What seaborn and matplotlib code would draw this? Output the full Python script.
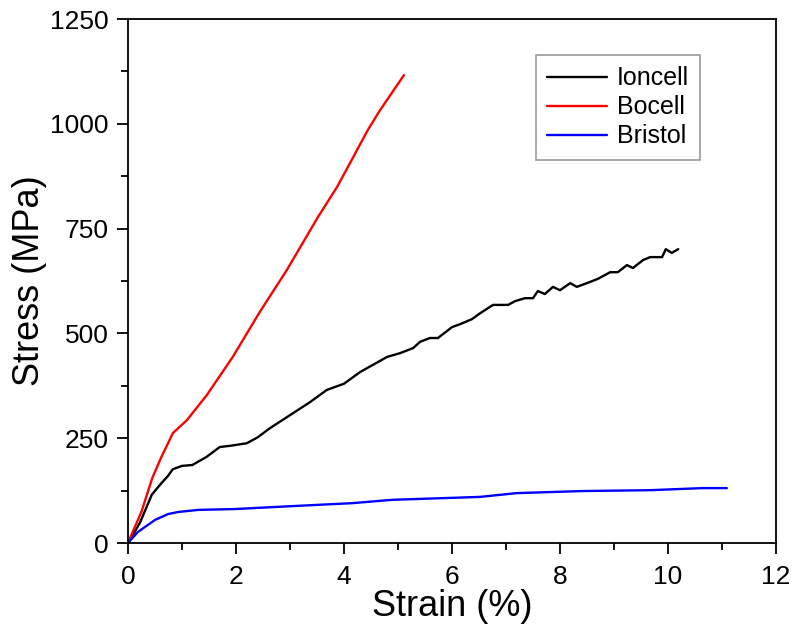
import pandas as pd
import matplotlib.pyplot as plt
import seaborn as sns

# stress-strain curves
ioncell_strain = [0, 0.22, 0.44, 0.6, 0.74, 0.83, 1.0, 1.19, 1.45, 1.7, 1.9, 2.2, 2.4, 2.63,
                  3.0, 3.37, 3.68, 4.0, 4.3, 4.8, 5.04, 5.28, 5.41, 5.59, 5.74, 6.0, 6.15,
                  6.37, 6.52, 6.76, 7.04, 7.17, 7.35, 7.5, 7.59, 7.72, 7.87, 8.0, 8.19,
                  8.31, 8.5, 8.7, 8.93, 9.07, 9.24, 9.35, 9.54, 9.67, 9.89, 9.96, 10.07, 10.19]
ioncell_stress = [0, 48, 115, 140, 160, 176, 184, 186, 205, 229, 232, 238, 252, 274,
                  305, 336, 365, 380, 408, 444, 453, 465, 480, 489, 489, 515, 522,
                  534, 548, 568, 568, 577, 584, 584, 601, 594, 611, 603, 620,
                  611, 620, 630, 646, 646, 663, 656, 675, 682, 682, 701, 692, 701]

bocell_strain = [0, 0.25, 0.45, 0.6, 0.83, 1.09, 1.46, 1.94, 2.44, 2.94, 3.52, 3.87,
                 4.11, 4.44, 4.67, 5.11]
bocell_stress = [0, 75, 155, 200, 262, 293, 353, 444, 551, 651, 778, 849,
                 906, 985, 1033, 1116]

bristol_strain = [0, 0.18, 0.5, 0.74, 0.93, 1.3, 1.98, 3.04, 4.15, 4.89, 6.06, 6.52, 7.2,
                  8.43, 9.67, 10.65, 11.09]
bristol_stress = [0, 26, 55, 69, 74, 79, 81, 88, 95, 103, 108, 110, 119,
                  124, 126, 131, 131]

df = pd.concat([
    pd.DataFrame({"Strain": ioncell_strain, "Stress": ioncell_stress, "Sample": "Ioncell"}),
    pd.DataFrame({"Strain": bocell_strain, "Stress": bocell_stress, "Sample": "Bocell"}),
    pd.DataFrame({"Strain": bristol_strain, "Stress": bristol_stress, "Sample": "Bristol"}),
])

sns.set_style("ticks")
plt.rcParams["font.family"] = ["Liberation Sans", "DejaVu Sans"]
for k in ["text.color", "axes.labelcolor", "xtick.color", "ytick.color", "axes.edgecolor"]:
    plt.rcParams[k] = "black"

fig = plt.figure(figsize=(7.98, 6.38), dpi=100)
ax = fig.add_axes([0.1604, 0.1489, 0.8120, 0.8213])

sns.lineplot(
    data=df, x="Strain", y="Stress", hue="Sample", sort=False, estimator=None,
    palette={"Ioncell": "black", "Bocell": "red", "Bristol": "blue"},
    linewidth=1.7, ax=ax,
)

ax.set_xlim(0, 12)
ax.set_ylim(0, 1250)
ax.set_xticks(range(0, 13, 2))
ax.set_xticks(range(1, 12, 2), minor=True)
ax.set_yticks(range(0, 1251, 250))
ax.set_yticks(range(125, 1250, 250), minor=True)
ax.tick_params(which="major", length=8, width=1.3, labelsize=19, direction="out")
ax.tick_params(axis="x", which="major", pad=8)
ax.tick_params(axis="y", which="major", pad=6)
ax.tick_params(which="minor", length=5, width=1.3, direction="out")
for s in ax.spines.values():
    s.set_linewidth(1.3)

ax.set_xlabel("Strain (%)", fontsize=26, labelpad=0)
ax.set_ylabel("Stress (MPa)", fontsize=26, labelpad=2)

leg = ax.legend(
    title=None, loc="upper right", bbox_to_anchor=(0.883, 0.931),
    borderaxespad=0, fontsize=18, frameon=True, fancybox=False, edgecolor="gray",
    handlelength=2.4, borderpad=0.45, labelspacing=0.2, handletextpad=0.4,
)
leg.get_frame().set_linewidth(1.2)

fig.savefig("out.png", dpi=100)
